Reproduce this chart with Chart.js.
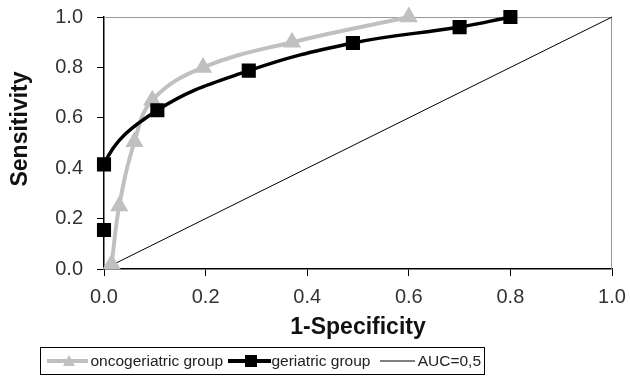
<!DOCTYPE html>
<html>
<head>
<meta charset="utf-8">
<script src="https://cdn.jsdelivr.net/npm/chart.js@4.4.0/dist/chart.umd.min.js"></script>
<style>
  body { margin: 0; background: #fff; }
  #wrap { position: relative; width: 630px; height: 378px; }
  #legend {
    position: absolute; left: 40px; top: 347px; width: 445px; height: 28px;
    border: 1px solid #000; box-sizing: border-box;
    font-family: "Liberation Sans", Arial, sans-serif; font-size: 15.5px; color: #222;
    display: flex; align-items: center; white-space: nowrap;
  }
  #legend svg { display: block; }
  #legend span { margin-right: 3px; }
</style>
</head>
<body>
<div id="wrap">
  <canvas id="roc" width="630" height="378"></canvas>
  <div id="legend">
    <svg width="48" height="14" style="margin-left:4px;margin-right:2px"><line x1="2" y1="7" x2="46" y2="7" stroke="#c0c0c0" stroke-width="4"/><polygon points="24,1 30,12 18,12" fill="#c0c0c0"/></svg>
    <span>oncogeriatric group</span>
    <svg width="50" height="14"><line x1="2" y1="7" x2="48" y2="7" stroke="#000" stroke-width="4"/><rect x="19" y="1" width="12" height="12" fill="#000"/></svg>
    <span style="margin-right:8px">geriatric group</span>
    <svg width="40" height="14"><line x1="2" y1="7" x2="38" y2="7" stroke="#000" stroke-width="1"/></svg>
    <span style="margin-left:3px">AUC=0,5</span>
  </div>
</div>
<script>
// ROC curve points
const oncoX = [0.015, 0.03, 0.06, 0.095, 0.195, 0.37, 0.6];
const oncoY = [0.02, 0.25, 0.505, 0.67, 0.8, 0.9, 1.0];
const geriX = [0.0, 0.0, 0.105, 0.285, 0.49, 0.7, 0.8];
const geriY = [0.155, 0.415, 0.63, 0.787, 0.897, 0.96, 1.0];
const refX = [0, 1];
const refY = [0, 1];
const tickVals = [0, 0.2, 0.4, 0.6, 0.8, 1.0];

const pts = (xs, ys) => xs.map((x, i) => ({ x: x, y: ys[i] }));

const tickFont = { family: 'Liberation Sans, Arial, sans-serif', size: 20 };
const titleFont = { family: 'Liberation Sans, Arial, sans-serif', size: 23, weight: 'bold' };

// gray frame on top and right of the plot, and the y title placed a bit above centre like the original
const frame = {
  id: 'frame',
  beforeDatasetsDraw(chart) {
    const { ctx, chartArea: a } = chart;
    ctx.save();
    ctx.strokeStyle = '#999';
    ctx.lineWidth = 1;
    ctx.beginPath();
    ctx.moveTo(a.left, a.top + 0.5);
    ctx.lineTo(a.right - 0.5, a.top + 0.5);
    ctx.lineTo(a.right - 0.5, a.bottom);
    ctx.stroke();
    ctx.restore();
  },
  afterDraw(chart) {
    const t = chart.options.scales.y.title;
    const ctx = chart.ctx;
    ctx.save();
    ctx.translate(21, 129);
    ctx.rotate(-Math.PI / 2);
    ctx.font = 'bold 23px "Liberation Sans", Arial, sans-serif';
    ctx.fillStyle = '#111';
    ctx.textAlign = 'center';
    ctx.textBaseline = 'middle';
    ctx.fillText(t.text, 0, 0);
    ctx.restore();
  }
};

new Chart(document.getElementById('roc'), {
  type: 'scatter',
  data: {
    datasets: [
      {
        label: 'AUC=0,5',
        data: pts(refX, refY),
        showLine: true,
        borderColor: '#000',
        borderWidth: 1,
        pointRadius: 0,
        order: 3
      },
      {
        label: 'oncogeriatric group',
        data: pts(oncoX, oncoY),
        showLine: true,
        borderColor: '#c0c0c0',
        backgroundColor: '#c0c0c0',
        borderWidth: 4,
        tension: 0.4,
        pointStyle: 'triangle',
        pointRadius: 6.5,
        order: 2
      },
      {
        label: 'geriatric group',
        data: pts(geriX, geriY),
        showLine: true,
        borderColor: '#000',
        backgroundColor: '#000',
        borderWidth: 3.5,
        tension: 0.4,
        pointStyle: 'rect',
        pointRadius: 7.5,
        // no line between the two points on the y axis
        segment: { borderColor: c => c.p0DataIndex === 0 ? 'rgba(0,0,0,0)' : undefined },
        order: 1
      }
    ]
  },
  options: {
    responsive: false,
    animation: false,
    clip: false,
    layout: { padding: { top: 17, right: 18, left: 0, bottom: 37 } },
    plugins: { legend: { display: false }, tooltip: { enabled: false } },
    scales: {
      x: {
        type: 'linear', min: 0, max: 1,
        afterBuildTicks: s => { s.ticks = tickVals.map(v => ({ value: v })); },
        afterFit: s => { s.height = 72; s.paddingLeft = 0; s.paddingRight = 0; },
        ticks: { font: tickFont, color: '#333', padding: 9, callback: v => v.toFixed(1), maxRotation: 0 },
        grid: { drawOnChartArea: false, drawTicks: true, tickLength: 7, color: '#000' },
        border: { color: '#000', width: 1.5 },
        title: { display: true, text: '1-Specificity', font: titleFont, color: '#111', padding: { top: 0, bottom: 0 } }
      },
      y: {
        type: 'linear', min: 0, max: 1,
        afterBuildTicks: s => { s.ticks = tickVals.map(v => ({ value: v })); },
        afterFit: s => { s.width = 104; s.paddingTop = 0; s.paddingBottom = 0; },
        ticks: { font: tickFont, color: '#333', padding: 14, callback: v => v.toFixed(1) },
        grid: { drawOnChartArea: false, drawTicks: true, tickLength: 7, color: '#000' },
        border: { color: '#000', width: 1.5 },
        title: { display: false, text: 'Sensitivity' }
      }
    }
  },
  plugins: [frame]
});
</script>
</body>
</html>
